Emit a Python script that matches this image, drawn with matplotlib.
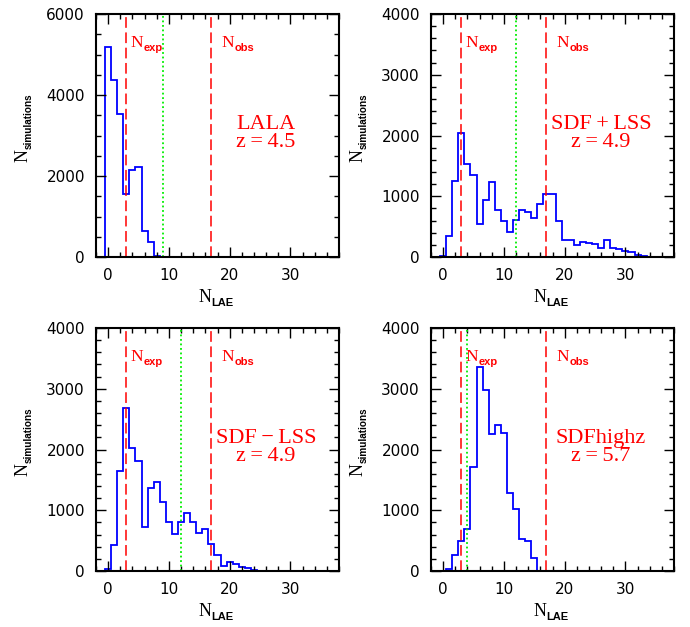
import numpy as np
import matplotlib
matplotlib.use("Agg")
import matplotlib.pyplot as plt
from matplotlib.ticker import MultipleLocator
from matplotlib.transforms import offset_copy, blended_transform_factory

# ---- data (bin centres are integer N_LAE values) ----
lala_counts = [5180, 4360, 3530, 1560, 2160, 2220, 630, 360, 15, 5]
sdf_lss_plus_counts = [10, 340, 1246, 2042, 1526, 1350, 538, 933, 1230, 780,
                       593, 412, 615, 780, 741, 637, 878, 1038, 1030, 593,
                       285, 280, 192, 241, 235, 220, 148, 285, 154, 132,
                       99, 77, 38, 15, 8, 5]
sdf_lss_minus_counts = [38, 434, 1641, 2685, 2031, 1812, 725, 1372, 1466, 1131,
                        812, 615, 807, 955, 807, 631, 692, 439, 269, 77,
                        148, 110, 66, 55, 22, 6, 4, 2]
sdfhighz_counts = [0, 27, 263, 494, 686, 1713, 3365, 2981, 2251, 2399,
                   2278, 1279, 1027, 521, 500, 209]

panel_names = ["LALA\nz\u2009=\u20094.5", "SDF\u2009+\u2009LSS\nz\u2009=\u20094.9",
               "SDF\u2009\u2212\u2009LSS\nz\u2009=\u20094.9", "SDFhighz\nz\u2009=\u20095.7"]
panel_counts = [lala_counts, sdf_lss_plus_counts, sdf_lss_minus_counts, sdfhighz_counts]
n_exp = [3, 3, 3, 3]
n_green = [9, 12, 12, 4]
n_obs = [17, 17, 17, 17]
ymax = [6000, 4000, 4000, 4000]
ymajor = [2000, 1000, 1000, 1000]
yminor = [500, 200, 200, 200]

RED = '#ff0000'
SERIF = 'Liberation Serif'
SANSB = 'Liberation Sans'


def sub_label(ax, trans, x, y, sub, color='black', nsize=13, ssize=6.5,
              rotated=False, dy_sub=3.0):
    """Draw 'N' in serif with a bold sans subscript."""
    fig = ax.figure
    nwidth = 0.722 * nsize
    if not rotated:
        ax.text(x, y, 'N', transform=trans, family=SERIF, fontsize=nsize,
                color=color, ha='left', va='baseline')
        t2 = offset_copy(trans, fig=fig, x=nwidth + 0.3, y=-dy_sub, units='points')
        ax.text(x, y, sub, transform=t2, family=SANSB, fontweight='bold',
                fontsize=ssize, color=color, ha='left', va='baseline')
    else:
        ax.text(x, y, 'N', transform=trans, family=SERIF, fontsize=nsize,
                color=color, ha='left', va='baseline', rotation=90,
                rotation_mode='anchor')
        t2 = offset_copy(trans, fig=fig, x=dy_sub, y=nwidth + 0.3, units='points')
        ax.text(x, y, sub, transform=t2, family=SANSB, fontweight='bold',
                fontsize=ssize, color=color, ha='left', va='baseline', rotation=90,
                rotation_mode='anchor')


fig = plt.figure(figsize=(6.9, 6.27), dpi=100)
W, H = 690.0, 627.0
boxes = [(96, 14), (431, 14), (96, 328), (431, 328)]
aw, ah = 243, 243

for i in range(4):
    x0, y0 = boxes[i]
    ax = fig.add_axes([x0 / W, 1 - (y0 + ah) / H, aw / W, ah / H])
    counts = np.array(panel_counts[i], dtype=float)
    centers = np.arange(len(counts))
    edges = np.concatenate([centers - 0.5, [centers[-1] + 0.5]])
    ax.stairs(counts, edges, baseline=0, color='#0000ff', lw=1.3)
    ax.axvline(n_exp[i], color=RED, lw=1.1, dashes=(7, 3))
    ax.axvline(n_obs[i], color=RED, lw=1.1, dashes=(7, 3))
    ax.axvline(n_green[i], color='#00ee00', lw=1.3, dashes=(1, 1.5))
    ax.set_xlim(-2, 38)
    ax.set_ylim(0, ymax[i])
    ax.xaxis.set_major_locator(MultipleLocator(10))
    ax.xaxis.set_minor_locator(MultipleLocator(2))
    ax.yaxis.set_major_locator(MultipleLocator(ymajor[i]))
    ax.yaxis.set_minor_locator(MultipleLocator(yminor[i]))
    ax.tick_params(which='both', direction='in', top=True, right=True, width=1.0)
    ax.tick_params(which='major', length=7, labelsize=11, pad=8)
    ax.tick_params(which='minor', length=3.5)
    for lab in ax.get_xticklabels() + ax.get_yticklabels():
        lab.set_family('DejaVu Sans')
    for s in ax.spines.values():
        s.set_linewidth(1.5)

    # axis labels
    sub_label(ax, ax.transAxes, 0.42, -0.185, 'LAE', nsize=13, ssize=8.0, dy_sub=3.0)
    sub_label(ax, ax.transAxes, -0.282, 0.39, 'simulations', nsize=13, ssize=7.2,
              rotated=True, dy_sub=3.0)

    # N_exp / N_obs markers
    trans = blended_transform_factory(ax.transData, ax.transAxes)
    sub_label(ax, offset_copy(trans, fig=fig, x=3.0, y=0, units='points'),
              n_exp[i], 0.865, 'exp', color=RED, nsize=12.5, ssize=8.0, dy_sub=3.0)
    sub_label(ax, offset_copy(trans, fig=fig, x=7.2, y=0, units='points'),
              n_obs[i], 0.865, 'obs', color=RED, nsize=12.5, ssize=8.0, dy_sub=3.0)

    ax.text(0.70, 0.51, panel_names[i], transform=ax.transAxes, color=RED,
            fontsize=16, family=SERIF, ha='center', va='center',
            linespacing=0.92)

fig.savefig('out.png', dpi=100)
